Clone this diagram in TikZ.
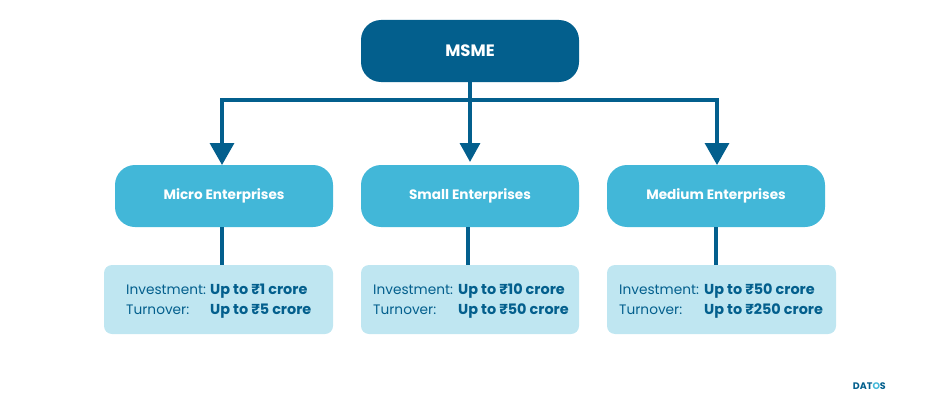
\documentclass[tikz,border=0pt]{standalone}
\usepackage{fontspec}
\setmainfont{Poppins}
\usetikzlibrary{arrows.meta,calc}
\definecolor{deep}{HTML}{035F8D}
\definecolor{mid}{HTML}{42B7D8}
\definecolor{pale}{HTML}{BFE6F1}
\tikzset{
 x=1pt,y=-1pt,
 topbox/.style={draw=none,fill=deep,rounded corners=20pt,minimum width=218pt,minimum height=62pt,inner sep=0pt,text=white,font=\fontsize{16.5}{18}\selectfont\bfseries},
 midbox/.style={draw=none,fill=mid,rounded corners=20pt,minimum width=218pt,minimum height=62pt,inner sep=0pt,text=white,font=\fontsize{13.6}{15}\selectfont\bfseries},
 infobox/.style={draw=none,fill=pale,rounded corners=8pt,minimum height=69pt,inner sep=0pt},
 lab/.style={anchor=base west,inner sep=0pt,text=deep,font=\fontsize{13.7}{15}\selectfont},
 val/.style={anchor=base west,inner sep=0pt,text=deep,font=\fontsize{14.4}{16}\selectfont\bfseries},
 link/.style={draw=deep,line width=3.4pt},
 arr/.style={draw=deep,line width=3.4pt,-{Triangle[length=22pt,width=24pt,fill=deep]}},
 arrs/.style={draw=deep,line width=3.4pt,-{Triangle[length=19pt,width=20pt,fill=deep]}},
}
\begin{document}
\begin{tikzpicture}
\useasboundingbox (0,0) rectangle (939,412);
\node[topbox] (msme) at (470,51) {\raisebox{-1pt}{MSME}};
\node[midbox] (micro) at (224,196) {\raisebox{-1.5pt}{Micro Enterprises}};
\node[midbox] (small) at (470,196) {\raisebox{-1.5pt}{Small Enterprises}};
\node[midbox] (medium) at (716,196) {\raisebox{-1.5pt}{Medium Enterprises}};
\node[infobox,minimum width=229pt] (ia) at (218.5,299.5) {};
\node[infobox,minimum width=218pt] (ib) at (470,299.5) {};
\node[infobox,minimum width=229pt] (ic) at (721.5,299.5) {};
\coordinate (hub) at (470,100);
\coordinate (ta) at (222,165);
\coordinate (tb) at (470,162);
\coordinate (tc) at (717,165);
\draw[arr] (hub) -| (ta);
\draw[arr] (hub) -| (tc);
\draw[arrs] (msme.south) -- (tb);
\draw[link] ([xshift=-2pt]micro.south) -- (ia.north -| 222,0);
\draw[link] ([xshift=-2pt]small.south) -- ([xshift=-2pt]ib.north);
\draw[link] (medium.south) -- (medium.south |- ic.north);
\node[lab] at (126,294.5) {Investment:};
\node[val] at (210,294.5) {Up to ₹1 crore};
\node[lab] at (126,314) {Turnover:};
\node[val] at (210,314) {Up to ₹5 crore};
\node[lab] at (373,294.5) {Investment:};
\node[val] at (458,294.5) {Up to ₹10 crore};
\node[lab] at (373,314) {Turnover:};
\node[val] at (458,314) {Up to ₹50 crore};
\node[lab] at (619,294.5) {Investment:};
\node[val] at (704,294.5) {Up to ₹50 crore};
\node[lab] at (619,314) {Turnover:};
\node[val] at (704,314) {Up to ₹250 crore};
\node[anchor=east,inner sep=0pt,text=deep,font=\fontsize{9.5}{10}\selectfont\bfseries] at (886,386) {DAT\textcolor{mid}{O}S};
\end{tikzpicture}
\end{document}
